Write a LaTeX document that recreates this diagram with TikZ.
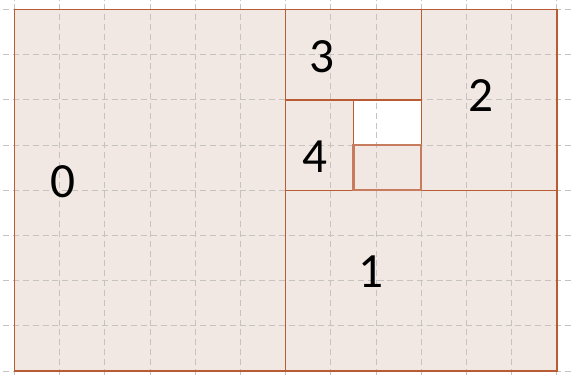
\documentclass[tikz,border=0pt]{standalone}
\usepackage{fontspec}
\setmainfont{Carlito}
\definecolor{regfill}{RGB}{242,232,227}
\definecolor{regline}{RGB}{185,92,52}
\definecolor{gridc}{RGB}{198,194,192}
\tikzset{
  region/.style={draw=regline, line width=0.9pt},
  inner region/.style={draw=regline!80, line width=1.4pt},
  gridline/.style={draw=gridc, line width=0.7pt, dash pattern=on 3.8pt off 2.4pt},
  numlabel/.style={font=\fontsize{31}{37}\selectfont, text=black, inner sep=0pt}
}
\begin{document}
\begin{tikzpicture}[x=1cm,y=1cm]
\useasboundingbox (-0.321,-0.153) rectangle (12.334,8.21);
% fills
\fill[regfill] (0,0) rectangle (12,8);
\fill[white] (7.5,5) rectangle (9,6);
% grid
\foreach \x in {0,1,...,12} \draw[gridline] (\x,-0.3) -- (\x,8.3);
\foreach \y in {0,1,...,8} \draw[gridline] (-0.25,\y) -- (12.4,\y);
% regions
\draw[region] (0,0) rectangle (12,8);
\draw[region] (6,0) rectangle (12,4);
\draw[region] (9,4) rectangle (12,8);
\draw[region] (6,6) rectangle (9,8);
\draw[region] (6,4) rectangle (7.5,6);
\draw[region] (7.5,5) rectangle (9,6);
\draw[inner region] (7.5,4) rectangle (9,5);
% labels
\node[numlabel] (l0) at (1.07,4.2) {0};
\node[numlabel] (l1) at (7.89,2.19) {1};
\node[numlabel] (l2) at (10.32,6.09) {2};
\node[numlabel] (l3) at (6.8,6.95) {3};
\node[numlabel] (l4) at (6.65,4.74) {4};
\end{tikzpicture}
\end{document}
